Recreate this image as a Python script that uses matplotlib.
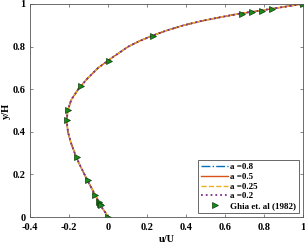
import matplotlib
matplotlib.use("Agg")
import matplotlib.pyplot as plt

# Ghia et al. (1982) reference points
ghia_y = [1.0, 0.9766, 0.9688, 0.9609, 0.9531, 0.8516, 0.7344, 0.6172, 0.5,
          0.4531, 0.2813, 0.1719, 0.1016, 0.0703, 0.0625, 0.0547, 0.0]
ghia_u = [1.0, 0.84123, 0.78871, 0.73722, 0.68717, 0.23151, 0.00332, -0.13641,
          -0.20581, -0.2109, -0.15662, -0.1015, -0.06434, -0.04775, -0.04192,
          -0.03717, 0.0]

# simulated profile (all cases overlap)
sim_y = [0, 0.02, 0.05, 0.1, 0.15, 0.2, 0.25, 0.3, 0.35, 0.4, 0.45, 0.5, 0.55,
         0.6, 0.65, 0.7, 0.75, 0.8, 0.825, 0.85, 0.875, 0.9, 0.92, 0.94, 0.955,
         0.97, 0.98, 0.99, 1.0]
sim_u = [0, -0.012, -0.035, -0.063, -0.092, -0.12, -0.147, -0.17, -0.19, -0.205,
         -0.211, -0.206, -0.188, -0.152, -0.105, -0.05, 0.025, 0.105, 0.16,
         0.225, 0.30, 0.39, 0.48, 0.59, 0.68, 0.79, 0.86, 0.93, 1.0]

cases = ["a =0.8", "a =0.5", "a =0.25", "a =0.2"]
colors = ["#0072BD", "#D95319", "#EDB120", "#7E2F8E"]
styles = ["-.", "-", "--", ":"]
widths = [1.0, 1.0, 1.0, 1.3]

plt.rcParams["font.family"] = "Liberation Serif"
plt.rcParams["font.weight"] = "bold"

fig = plt.figure(figsize=(3.05, 2.45), dpi=100)
ax = fig.add_axes([0.098, 0.114, 0.895, 0.870])

for lab, c, ls, lw in zip(cases, colors, styles, widths):
    ax.plot(sim_u, sim_y, color=c, linestyle=ls, linewidth=lw, label=lab)

ax.plot(ghia_u, ghia_y, linestyle="none", marker=">", markersize=5,
        markerfacecolor="#1a8a1a", markeredgecolor="#0b3d0b", markeredgewidth=0.5,
        label="Ghia et. al (1982)")

ax.set_xlim(-0.4, 1)
ax.set_ylim(0, 1)
ax.set_xticks([-0.4, -0.2, 0, 0.2, 0.4, 0.6, 0.8, 1])
ax.set_xticklabels(["-0.4", "-0.2", "0", "0.2", "0.4", "0.6", "0.8", "1"])
ax.set_yticks([0, 0.2, 0.4, 0.6, 0.8, 1])
ax.set_yticklabels(["0", "0.2", "0.4", "0.6", "0.8", "1"])
ax.tick_params(direction="in", length=2.5, width=0.5, labelsize=7.5,
               top=True, right=True, color="#555555")
ax.tick_params(axis="x", pad=4)
ax.tick_params(axis="y", pad=3)
for s in ax.spines.values():
    s.set_linewidth(0.6)
    s.set_color("#555555")

ax.set_xlabel("u/U", fontsize=7.5, fontweight="bold", labelpad=2.5)
ax.set_ylabel("y/H", fontsize=7.5, fontweight="bold", labelpad=1)

leg = ax.legend(loc="lower right", fontsize=6.5, frameon=True, fancybox=False,
                edgecolor="#222222", handlelength=3.0, handletextpad=0.2,
                borderpad=0.3, labelspacing=0.15, borderaxespad=0,
                bbox_to_anchor=(0.985, 0.02))
leg.get_frame().set_linewidth(0.6)

fig.savefig("out.png", dpi=100)
